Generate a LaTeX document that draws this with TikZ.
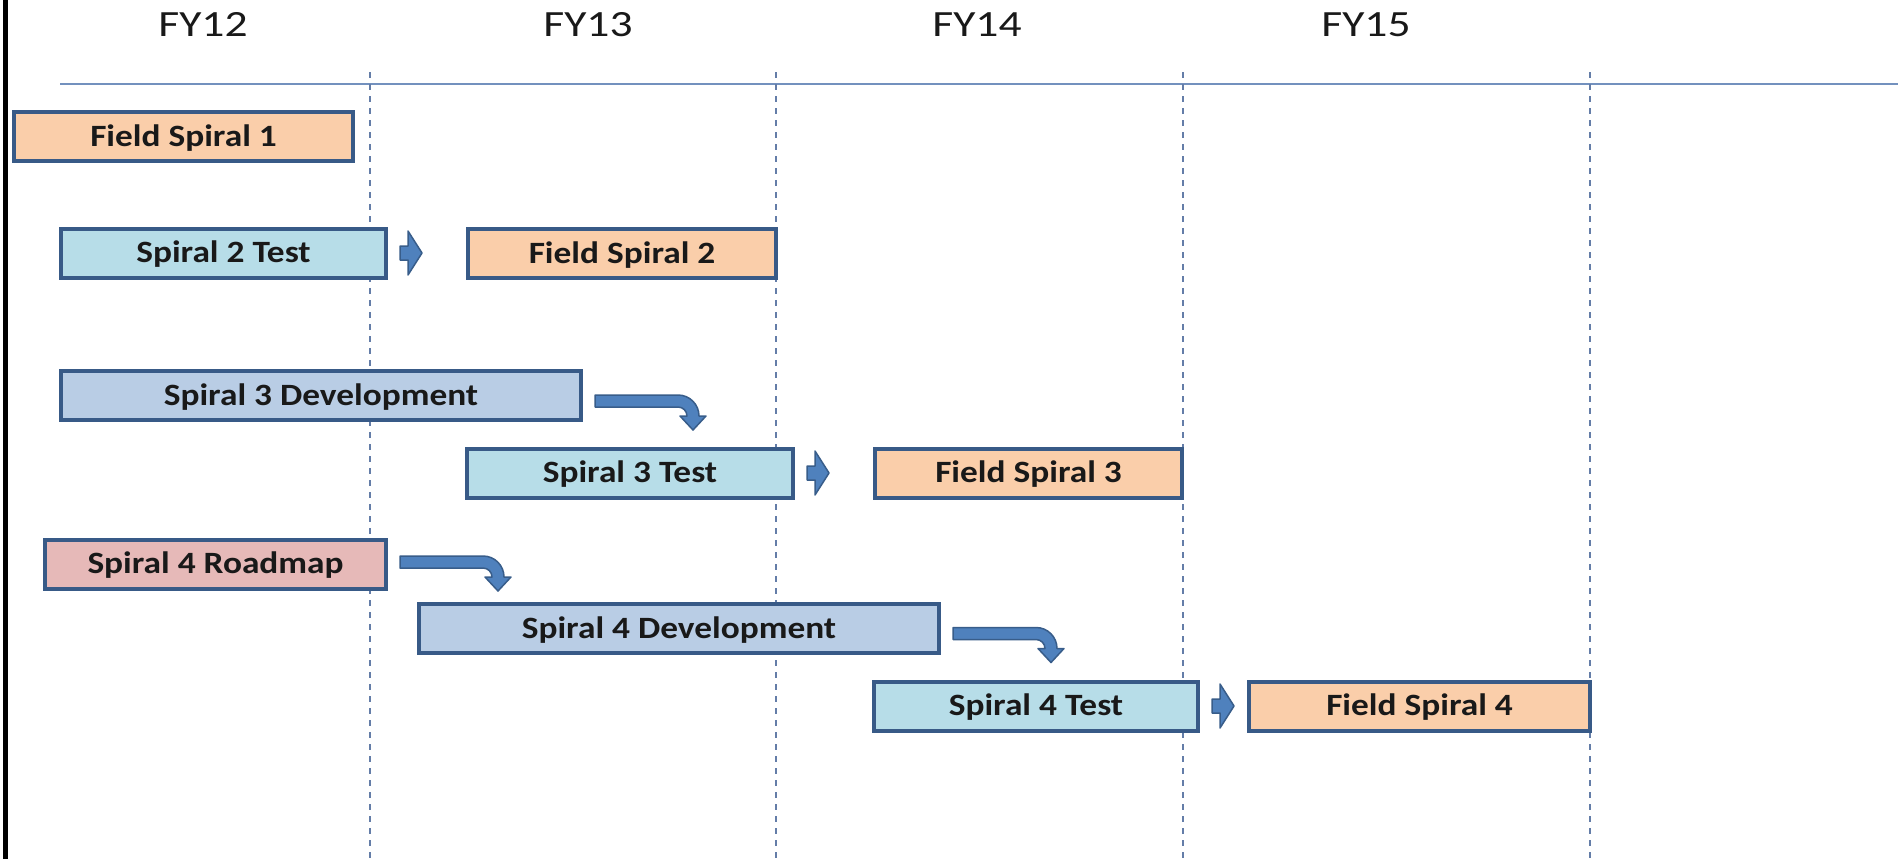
\documentclass[tikz,border=0pt]{standalone}
\usepackage{fontspec}
\usetikzlibrary{calc}
\newfontfamily\boxfont[FakeStretch=1.14]{Carlito}
\newfontfamily\yearfont[FakeStretch=1.23]{Carlito}

\definecolor{peach}{RGB}{250,206,170}
\definecolor{aqua}{RGB}{183,221,232}
\definecolor{devblue}{RGB}{185,205,229}
\definecolor{roadpink}{RGB}{230,185,184}
\definecolor{boxline}{RGB}{56,90,135}
\definecolor{arrowfill}{RGB}{79,129,189}
\definecolor{arrowline}{RGB}{56,93,138}
\definecolor{gridblue}{RGB}{100,125,168}
\definecolor{axisblue}{RGB}{115,145,190}

\tikzset{
  taskbox/.style={draw=boxline, line width=4pt, rectangle, inner sep=0pt,
    minimum height=49pt, text height=19pt, text depth=0pt,
    font=\boxfont\bfseries\fontsize{31pt}{31pt}\selectfont, text=black!90},
  yearlabel/.style={anchor=base, inner sep=0pt,
    font=\yearfont\fontsize{37pt}{37pt}\selectfont, text=black!90},
  gridline/.style={draw=gridblue, line width=2pt, dash pattern=on 6pt off 6pt},
  bentarrow/.pic={
    \fill[draw=arrowline, fill=arrowfill, line width=1.5pt, line join=round]
      (0,-6) -- (83,-6) .. controls (94.6,-6) and (104,3.4) .. (104,15)
      -- (111,15) -- (98,29) -- (85,15) -- (92,15)
      .. controls (92,10.03) and (87.97,6) .. (83,6) -- (0,6) -- cycle;
  },
  blockarrow/.pic={
    \fill[draw=arrowline, fill=arrowfill, line width=1.5pt, line join=round]
      (0,-7) -- (8,-7) -- (8,-22) -- (22,0) -- (8,22) -- (8,7) -- (0,7) -- cycle;
  }
}

\begin{document}
\begin{tikzpicture}[x=1pt, y=-1pt]
  % canvas
  \fill[white] (0,0) rectangle (1902,859);
  \useasboundingbox (0,0) rectangle (1902,859);

  % left frame edge
  \draw[black, line width=5pt] (5.5,0) -- (5.5,859);

  % time axis and fiscal-year boundaries
  \draw[axisblue, line width=2pt] (60,84) -- (1898,84);
  \foreach \gx in {370,776,1183,1590}
    \draw[gridline] (\gx,72) -- (\gx,859);

  % fiscal-year headings
  \node[yearlabel] (fy12) at (203,37) {FY12};
  \node[yearlabel] (fy13) at (588,37) {FY13};
  \node[yearlabel] (fy14) at (977,37) {FY14};
  \node[yearlabel] (fy15) at (1366,37) {FY15};

  % tasks
  \node[taskbox, fill=peach,    minimum width=339pt] (f1)     at (183.5,136.5) {Field Spiral 1};
  \node[taskbox, fill=aqua,     minimum width=325pt] (s2test) at (223.5,253)   {Spiral 2 Test};
  \node[taskbox, fill=peach,    minimum width=308pt] (f2)     at (622,253.5)   {Field Spiral 2};
  \node[taskbox, fill=devblue,  minimum width=520pt] (s3dev)  at (321,395.5)   {Spiral 3 Development};
  \node[taskbox, fill=aqua,     minimum width=326pt] (s3test) at (630,473)     {Spiral 3 Test};
  \node[taskbox, fill=peach,    minimum width=307pt] (f3)     at (1028.5,473)  {Field Spiral 3};
  \node[taskbox, fill=roadpink, minimum width=341pt] (s4road) at (215.5,564)   {Spiral 4 Roadmap};
  \node[taskbox, fill=devblue,  minimum width=520pt] (s4dev)  at (679,628.5)   {Spiral 4 Development};
  \node[taskbox, fill=aqua,     minimum width=324pt] (s4test) at (1036,706)    {Spiral 4 Test};
  \node[taskbox, fill=peach,    minimum width=341pt] (f4)     at (1419.5,706)  {Field Spiral 4};

  % hand-off arrows between phases
  \coordinate (k1) at ($(s2test.east)+(12,0)$);
  \coordinate (k2) at ($(s3test.east)+(12,0)$);
  \coordinate (k3) at ($(s4test.east)+(12,0)$);
  \pic at (k1) {blockarrow};
  \pic at (k2) {blockarrow};
  \pic at (k3) {blockarrow};

  \coordinate (b1) at ($(s3dev.east)+(12,5.5)$);
  \coordinate (b2) at ($(s4road.east)+(12,-2)$);
  \coordinate (b3) at ($(s4dev.east)+(12,5)$);
  \pic at (b1) {bentarrow};
  \pic at (b2) {bentarrow};
  \pic at (b3) {bentarrow};
\end{tikzpicture}
\end{document}
